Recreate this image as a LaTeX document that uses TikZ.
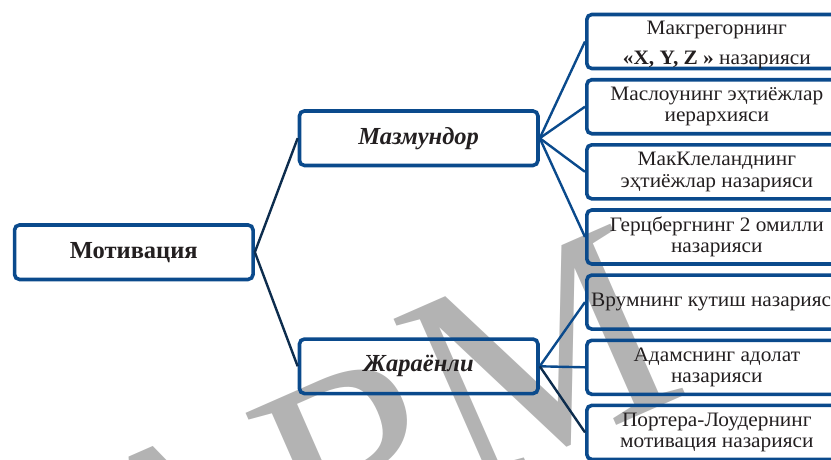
\documentclass[tikz,border=0pt]{standalone}
\usepackage{fontspec}
\setmainfont{Liberation Serif}
\newfontfamily\leaffont[FakeStretch=1.04]{Liberation Serif}
\definecolor{boxblue}{HTML}{0A4A8C}
\definecolor{navy}{HTML}{0D2D4E}
\definecolor{txt}{HTML}{231F20}
\definecolor{wmgray}{HTML}{B3B3B3}
\begin{document}
\begin{tikzpicture}[x=1pt,y=-1pt,
  box/.style={draw=boxblue, line width=3.6pt, rounded corners=5pt, inner sep=0pt,
    text=txt, align=center},
  mainbox/.style={box, minimum width=238.5pt, minimum height=54.5pt,
    font=\fontsize{24.5}{28}\selectfont},
  leaf/.style={box, anchor=west, minimum width=260pt, minimum height=54pt,
    font=\leaffont\fontsize{20.5}{21.5}\selectfont},
  trunk/.style={draw=navy, line width=2.4pt},
  fan/.style={draw=boxblue, line width=2.4pt},
  wm/.style={text=wmgray, inner sep=0pt, rotate=23.7, anchor=base west,
    font=\fontsize{285}{285}\selectfont}]
\useasboundingbox (0,0) rectangle (831,459);

% watermark letters behind the chart
\node[wm] (wmA) at (124,665) {A};
\node[wm] (wmR) at (313,588) {R};
\node[wm] (wmM) at (461,494) {M};

% root and the two branches
\node[mainbox] (root) at (133.8,252.2) {\bfseries Мотивация};
\node[mainbox] (content) at (418.7,138.2) {\bfseries\itshape Мазмундор};
\node[mainbox] (process) at (418.7,366.3) {\bfseries\itshape Жараёнли};

% theories
\node[leaf] (l1) at (585,41.5) {\rule{0pt}{20pt}Макгрегорнинг\\[8pt]{\bfseries «X, Y, Z »} назарияси};
\node[leaf] (l2) at (585,106.7) {Маслоунинг эҳтиёжлар\\иерархияси};
\node[leaf] (l3) at (585,171.8) {МакКлеланднинг\\эҳтиёжлар назарияси};
\node[leaf] (l4) at (585,237.0) {Герцбергнинг 2 омилли\\назарияси};
\node[leaf] (l5) at (585,302.1) {Врумнинг кутиш назарияси};
\node[leaf] (l6) at (585,367.3) {Адамснинг адолат\\назарияси};
\node[leaf] (l7) at (585,432.4) {Портера-Лоудернинг\\мотивация назарияси};

% connectors
\draw[trunk] (root.east) -- (content.west);
\draw[trunk] (root.east) -- (process.west);
\foreach \n in {l1,l2,l3,l4} \draw[fan] (content.east) -- (\n.west);
\foreach \n in {l5,l6} \draw[fan] (process.east) -- (\n.west);
\draw[trunk] (process.east) -- (l7.west);
\end{tikzpicture}
\end{document}
